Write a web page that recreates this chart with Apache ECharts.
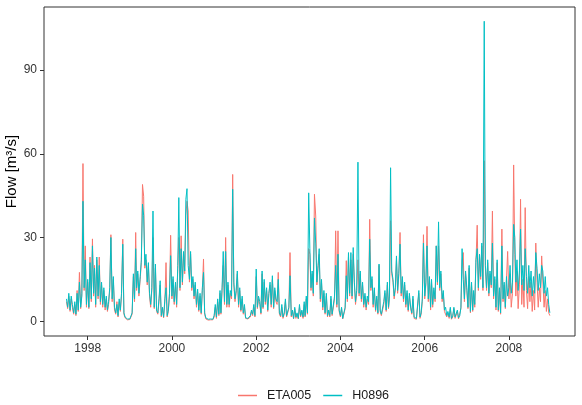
<!DOCTYPE html>
<html>
<head>
  <meta charset="UTF-8">
  <title>Flow ETA005 / H0896</title>
  <style>
    html, body { margin: 0; padding: 0; background: #fff; }
    #chart { width: 582px; height: 405px; }
  </style>
</head>
<body>
  <div id="chart"></div>

  <script src="https://cdn.jsdelivr.net/npm/echarts@6/dist/echarts.min.js"></script>
  <script>
    // three readings a month (days 1, 11, 21)
    const slotDays = [1, 11, 21];
    const years = [1997, 1998, 1999, 2000, 2001, 2002, 2003, 2004, 2005, 2006, 2007, 2008];
    const firstMonth = { 1997: 6 }; // record starts in July 1997

    // H0896 (observed)
    const h0896_1997 = [8, 5, 10, 4, 9, 6, 3, 7, 2.5, 10, 4, 14, 5, 9, 43, 12, 22, 6];
    const h0896_1998 = [15, 5, 21, 8, 27, 10, 19, 6, 23, 9, 20, 7, 14, 6, 12, 5, 9, 4, 7, 12, 30, 8, 16, 5, 3, 6, 2, 8, 4, 10, 27.6, 3, 1.5, 1, 0.8, 1.2];
    const h0896_1999 = [0.8, 1, 3, 17, 8, 26, 12, 18, 10, 16, 22, 42, 38, 20, 24, 14, 21, 10, 6, 12, 39.5, 5, 20.5, 4, 3, 8, 14.5, 2, 5, 1.5, 8, 12, 2, 4, 10, 23.5];
    const h0896_2000 = [9, 16, 7, 14, 6, 20, 44.3, 12, 26, 14, 25, 18, 43.7, 47.5, 20, 15, 25, 12, 16, 9, 14, 6, 11.5, 4, 10, 3, 12, 17.5, 3, 1.2, 0.8, 0.7, 0.9, 0.8, 1, 0.7];
    const h0896_2001 = [2, 6, 1.5, 8, 2.5, 11, 3, 12, 25, 7, 25, 6, 14, 6, 11, 9, 47.3, 14, 8, 11, 18, 6, 12, 4, 9, 3, 6, 1.2, 0.5, 1, 0.6, 2, 4, 2.5, 6, 2];
    const h0896_2002 = [18.7, 5, 9, 7, 3, 18, 5, 15, 7, 12, 4, 10, 14, 6, 16.3, 5, 12, 8, 7, 15, 3, 2, 6, 1.5, 3, 8, 2, 1.5, 5, 16.3, 2, 4, 1, 5, 1.5, 3];
    const h0896_2003 = [1, 6, 2, 4, 1.5, 7, 2, 9, 3, 46, 26, 12, 18, 10, 37, 28, 14, 20, 26, 8, 15, 5, 11, 3, 10, 2, 4, 2, 9, 2.5, 3, 9, 20, 6, 24, 4];
    const h0896_2004 = [2, 5, 1, 1.5, 5, 16.3, 8, 24.6, 10, 24.6, 9, 26.4, 14, 7, 11, 57, 10, 18, 8, 14, 6, 10, 5, 9, 7, 29.4, 12, 16, 6, 12, 4, 9, 3, 20.5, 4, 2.5];
    const h0896_2005 = [2, 7, 11, 4, 14, 5, 9, 55, 18, 15, 9, 12, 23.4, 11, 17, 27.6, 10, 16, 8, 14, 6, 11, 4, 10, 5, 3, 9, 1.5, 2, 1, 1.2, 11, 1.5, 3, 8, 28];
    const h0896_2006 = [9, 14, 27, 8, 16, 5, 15, 6, 12, 8, 27, 14, 35.6, 12, 18, 8, 11, 4, 5, 2, 3.5, 1.5, 5, 1, 2, 5, 1.5, 1, 4, 1.2, 2, 5, 26, 15, 8, 18];
    const h0896_2007 = [12, 5, 20, 3.5, 14, 4, 11, 6, 22, 26, 12, 24, 16, 28, 12, 107.5, 20, 12, 22, 10, 18, 13, 28, 9, 16, 5, 22, 4, 12, 3, 27, 8, 14, 5, 16, 9];
    const h0896_2008 = [12, 20, 10, 14, 34.7, 30, 14, 22, 11, 18, 33, 13, 20, 11, 26, 16, 10, 20, 12, 18, 9, 16, 10, 24.6, 19, 11, 17, 12, 20, 18, 10, 16, 9, 12, 6, 3];

    // ETA005 (simulated)
    const eta005_1997 = [7, 4.5, 9, 3.5, 8, 5, 2.5, 6, 2, 11, 3.5, 17.5, 4.5, 10, 56.5, 11, 27, 5];
    const eta005_1998 = [14, 4.5, 23, 7, 29.5, 9, 20, 5, 22, 8, 23, 6, 13, 5, 11, 4, 8, 3.5, 6, 11, 31, 7, 15, 4, 2.5, 7, 1.5, 7, 3.5, 9, 29.4, 2.5, 1.2, 0.8, 0.5, 1];
    const eta005_1999 = [0.6, 0.8, 2.5, 16, 7, 31.8, 11, 17, 9, 15, 21, 49, 44.8, 19, 22, 13, 20, 9, 5, 11, 30, 4.5, 19, 3.5, 2.5, 7, 13, 1.5, 4.5, 1.2, 7, 21, 1.5, 3.5, 9, 30.8];
    const eta005_2000 = [8, 15, 6, 13, 5, 19, 30, 11, 30.6, 13, 24, 17, 38, 43, 39.5, 14, 24, 11, 15, 8, 13, 5, 10.5, 3.5, 9, 2.5, 11, 22.3, 2.5, 0.8, 0.5, 0.4, 0.6, 0.5, 0.7, 0.5];
    const eta005_2001 = [1.5, 5, 1, 7, 2, 10, 2.5, 11, 20, 6, 30, 5, 13, 5, 10, 8, 52.6, 13, 7, 10, 17, 5, 11, 3.5, 8, 2.5, 5, 1, 0.3, 0.8, 0.4, 1.5, 3.5, 2, 5, 1.5];
    const eta005_2002 = [16, 4.5, 8, 6, 2.5, 17, 4.5, 14, 6, 11, 3.5, 10, 13, 5, 15, 4.5, 11, 7, 6, 17.5, 2.5, 1.5, 5, 1, 2.5, 7, 1.5, 1, 4.5, 24.6, 1.5, 3.5, 0.8, 4.5, 1, 2.5];
    const eta005_2003 = [0.8, 5, 1.5, 3.5, 1, 6, 1.5, 8, 2.5, 26, 24, 11, 17, 9, 45.5, 37.7, 13, 19, 24, 7, 14, 4, 10, 2.5, 9, 1.5, 3.5, 1.5, 8, 2, 2.5, 8, 32.4, 5, 32.4, 3.5];
    const eta005_2004 = [1.5, 4.5, 0.8, 1, 4.5, 21.7, 7, 23, 9, 22, 8, 24, 13, 6, 10, 22, 9, 17, 7, 13, 5, 9, 4, 8, 6, 36.5, 11, 15, 5, 11, 3.5, 8, 2.5, 20, 3.5, 2];
    const eta005_2005 = [1.5, 6, 10, 3.5, 13, 4.5, 8, 36, 17, 14, 8, 11, 22, 10, 16, 31.8, 9, 15, 7, 13, 5, 10, 3.5, 9, 4.5, 2.5, 8, 1, 1.5, 0.7, 0.8, 10, 1, 2.5, 7, 31];
    const eta005_2006 = [8, 13, 34, 7, 15, 4, 14, 5, 11, 7, 27, 13, 27, 11, 17, 7, 10, 3.5, 4, 1.5, 3, 1, 4.5, 0.7, 1.5, 4.5, 1, 0.7, 3.5, 0.8, 1.5, 4.5, 22, 24.6, 7, 17];
    const eta005_2007 = [11, 4.5, 19, 3, 13, 3.5, 10, 5, 21, 34.4, 11, 23, 15, 27, 11, 57.5, 19, 11, 21, 9, 17, 12, 39.5, 8, 15, 4, 21, 3.5, 11, 2.5, 33, 7, 13, 4.5, 15, 25];
    const eta005_2008 = [8, 17, 5, 10, 56, 24, 9, 18, 4.5, 13, 43.7, 6, 15, 5, 40.7, 11, 4.5, 16, 7, 14, 3.5, 11, 4, 28, 14, 5, 12, 7, 23.4, 23.4, 5, 11, 3.5, 8, 3, 2];

    const h0896 = [h0896_1997, h0896_1998, h0896_1999, h0896_2000, h0896_2001, h0896_2002,
                   h0896_2003, h0896_2004, h0896_2005, h0896_2006, h0896_2007, h0896_2008];
    const eta005 = [eta005_1997, eta005_1998, eta005_1999, eta005_2000, eta005_2001, eta005_2002,
                    eta005_2003, eta005_2004, eta005_2005, eta005_2006, eta005_2007, eta005_2008];

    const yTicks = [0, 30, 60, 90];
    const xTickYears = [1998, 2000, 2002, 2004, 2006, 2008];

    // pair each yearly list with its dates (x is a timestamp on a value axis)
    function toPoints(perYear) {
      const pts = [];
      years.forEach((y, k) => {
        const m0 = firstMonth[y] || 0;
        perYear[k].forEach((v, i) => {
          const m = m0 + Math.floor(i / 3);
          const d = slotDays[i % 3];
          pts.push([new Date(y, m, d).getTime(), v]);
        });
      });
      return pts;
    }

    const xTicks = xTickYears.map(y => new Date(y, 0, 1).getTime());
    const font = '"Liberation Sans", Arial, sans-serif';
    const chart = echarts.init(document.getElementById('chart'));

    chart.setOption({
      animation: false,
      textStyle: { fontFamily: font },
      grid: {
        left: 44, right: 7, top: 7, bottom: 69,
        outerBoundsMode: 'none',
        containLabel: false,
        show: true, borderColor: '#333', borderWidth: 1,
        backgroundColor: 'transparent'
      },
      legend: {
        left: 233, top: 384,
        icon: 'rect', itemWidth: 19, itemHeight: 1.5, itemGap: 12,
        textStyle: { fontSize: 12.5, color: '#1a1a1a', fontFamily: font, padding: [0, 0, 0, 5] },
        data: ['ETA005', 'H0896']
      },
      xAxis: {
        type: 'value',
        min: new Date(1996, 11, 18).getTime(),
        max: new Date(2009, 6, 27).getTime(),
        axisLine: { show: false, onZero: false },
        splitLine: { show: false },
        axisTick: {
          show: true, length: 4, inside: false,
          lineStyle: { color: '#333' },
          customValues: xTicks
        },
        axisLabel: {
          margin: 7, fontSize: 12, color: '#333', fontFamily: font,
          customValues: xTicks,
          formatter: v => String(new Date(v).getFullYear())
        }
      },
      yAxis: {
        type: 'value',
        min: -5.3, max: 112.6,
        name: 'Flow [m³/s]',
        nameLocation: 'middle',
        nameGap: 25,
        nameMoveOverlap: false,
        nameTextStyle: { fontSize: 15, color: '#000', fontFamily: font },
        axisLine: { show: false, onZero: false },
        splitLine: { show: false },
        axisTick: {
          show: true, length: 4,
          lineStyle: { color: '#333' },
          customValues: yTicks
        },
        axisLabel: {
          margin: 7, fontSize: 12, color: '#333', fontFamily: font,
          customValues: yTicks
        }
      },
      series: [
        {
          name: 'ETA005', type: 'line', data: toPoints(eta005),
          showSymbol: false, symbol: 'none',
          lineStyle: { color: '#F8766D', width: 1 }, itemStyle: { color: '#F8766D' }
        },
        {
          name: 'H0896', type: 'line', data: toPoints(h0896),
          showSymbol: false, symbol: 'none',
          lineStyle: { color: '#00BFC4', width: 1 }, itemStyle: { color: '#00BFC4' }
        }
      ]
    });
  </script>
</body>
</html>
